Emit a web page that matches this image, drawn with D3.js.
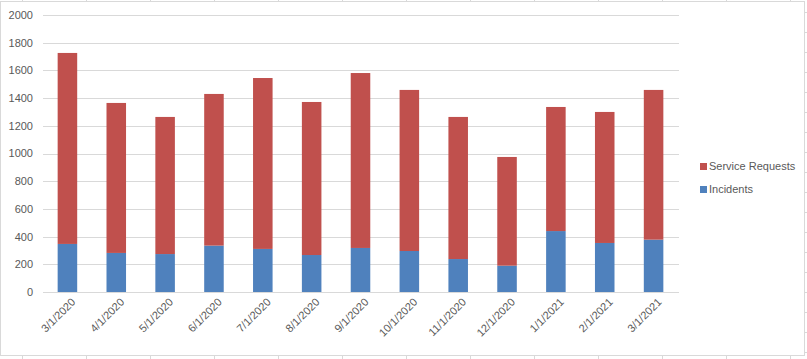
<!DOCTYPE html>
<html>
<head>
<meta charset="utf-8">
<script src="https://cdn.jsdelivr.net/npm/d3@7"></script>
<style>
  body { margin: 0; background: #fff; }
  text { font-family: "Liberation Sans", Arial, sans-serif; font-size: 11px; fill: #595959; }
</style>
</head>
<body>
<div id="chart"></div>
<script>
// months on the x axis
const months = ["3/1/2020", "4/1/2020", "5/1/2020", "6/1/2020", "7/1/2020", "8/1/2020",
  "9/1/2020", "10/1/2020", "11/1/2020", "12/1/2020", "1/1/2021", "2/1/2021", "3/1/2021"];
// series values
const incidents = [347, 282, 274, 335, 311, 267, 318, 296, 238, 190, 440, 354, 378];
const serviceRequests = [1379, 1083, 990, 1095, 1234, 1105, 1263, 1163, 1026, 785, 896, 946, 1081];
const yTicks = [0, 200, 400, 600, 800, 1000, 1200, 1400, 1600, 1800, 2000];

const W = 807, H = 359;
const colors = { "Incidents": "#4F81BD", "Service Requests": "#C0504D" };
const gridColor = "#D9D9D9";

const svg = d3.select("#chart").append("svg")
  .attr("width", W)
  .attr("height", H);

svg.append("rect").attr("width", W).attr("height", H).attr("fill", "#fff");

// spreadsheet cell lines peeking out round the chart
svg.selectAll(".cell-b")
  .data(d3.range(22, W, 64))
  .enter().append("line")
  .attr("x1", d => d + 0.5).attr("x2", d => d + 0.5)
  .attr("y1", 356).attr("y2", H)
  .attr("stroke", gridColor);
svg.selectAll(".cell-t")
  .data(d3.range(22, W, 64))
  .enter().append("line")
  .attr("x1", d => d + 0.5).attr("x2", d => d + 0.5)
  .attr("y1", 0).attr("y2", 1)
  .attr("stroke", gridColor);
svg.selectAll(".cell-y")
  .data(d3.range(12, H, 20))
  .enter().append("line")
  .attr("x1", 805).attr("x2", W)
  .attr("y1", d => d + 0.5).attr("y2", d => d + 0.5)
  .attr("stroke", gridColor);

// chart border
svg.append("rect")
  .attr("x", 0.5).attr("y", 1.5)
  .attr("width", 804).attr("height", 354)
  .attr("fill", "none")
  .attr("stroke", gridColor);

const x = d3.scaleBand()
  .domain(months)
  .range([43, 678])
  .paddingInner(0.6)
  .paddingOuter(0.3);

const y = d3.scaleLinear()
  .domain([0, 2000])
  .range([292, 15]);

// gridlines
svg.selectAll(".grid")
  .data(yTicks)
  .enter().append("line")
  .attr("x1", 43).attr("x2", 679)
  .attr("y1", d => Math.round(y(d)) + 0.5)
  .attr("y2", d => Math.round(y(d)) + 0.5)
  .attr("stroke", gridColor)
  .attr("stroke-width", 1);

// y labels
svg.selectAll(".ylab")
  .data(yTicks)
  .enter().append("text")
  .attr("x", 33)
  .attr("y", d => y(d))
  .attr("dy", "0.36em")
  .attr("text-anchor", "end")
  .text(d => d);

// stacked bars
const rows = months.map((m, i) => ({ month: m, "Incidents": incidents[i], "Service Requests": serviceRequests[i] }));
const stack = d3.stack().keys(["Incidents", "Service Requests"])(rows);

svg.selectAll(".series")
  .data(stack)
  .enter().append("g")
  .attr("fill", d => colors[d.key])
  .selectAll("rect")
  .data(d => d)
  .enter().append("rect")
  .attr("x", d => x(d.data.month))
  .attr("width", x.bandwidth())
  .attr("y", d => y(d[1]))
  .attr("height", d => y(d[0]) - y(d[1]));

// x labels, rotated
svg.selectAll(".xlab")
  .data(months)
  .enter().append("text")
  .attr("text-anchor", "end")
  .attr("transform", d => `translate(${x(d) + x.bandwidth() / 2 + 6},${300}) rotate(-45)`)
  .attr("dy", "0.35em")
  .text(d => d);

// legend
const legendData = ["Service Requests", "Incidents"];
const legend = svg.selectAll(".legend")
  .data(legendData)
  .enter().append("g")
  .attr("transform", (d, i) => `translate(700,${166.5 + i * 23})`);
legend.append("rect")
  .attr("x", 0).attr("y", -3.5)
  .attr("width", 7).attr("height", 7)
  .attr("fill", d => colors[d]);
legend.append("text")
  .attr("x", 9)
  .attr("dy", "0.36em")
  .text(d => d);
</script>
</body>
</html>
